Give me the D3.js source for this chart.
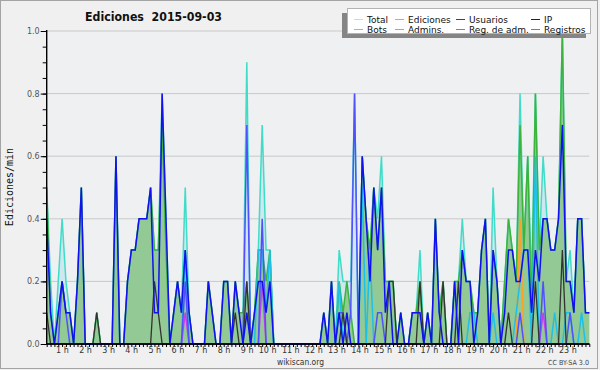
<!DOCTYPE html>
<html>
<head>
<meta charset="utf-8">
<script src="https://cdn.jsdelivr.net/npm/d3@7"></script>
<style>
  body { margin: 0; background: #f0f0f0; }
  svg text { font-family: "DejaVu Sans", sans-serif; }
</style>
</head>
<body>
<div id="chart"></div>
<script>
// values per 10 minutes, edits/min, one row per hour (last row = 23 h)
const total = [
  .5,.2,0,.2,.4,.2,  .1,0,.2,.5,0,0,  0,.1,0,0,0,0,  .6,0,0,.2,.3,.3,
  .4,.4,.4,.5,.3,.3,  .8,.4,0,.1,.2,.1,  .5,.1,0,0,0,0,  .2,.1,0,0,.2,.2,
  0,.2,.1,.1,.9,0,  .1,.3,.7,.3,.3,0,  0,0,0,0,0,0,  0,0,0,0,0,0,
  .1,0,.2,0,.3,.2,  .2,.2,.8,0,.6,.4,  .3,.5,.4,.6,.2,.2,  .2,0,.1,0,0,.1,
  .1,.3,0,.1,0,.4,  .1,.2,0,0,.2,.2,  .4,.2,.2,.1,.1,.3,  .4,0,.5,.2,0,.2,
  .4,.3,.2,.8,.3,.6,  .2,.8,.3,.6,.4,.3,  .3,.4,1,.2,.3,.1,  .4,.4,.1,.1
];
const ediciones = [
  .5,.1,0,.1,.2,.1,  .1,0,.2,.5,0,0,  0,.1,0,0,0,0,  .6,0,0,.2,.3,.3,
  .4,.4,.4,.5,.3,.3,  .7,.3,0,.1,.2,.1,  .3,.1,0,0,0,0,  .2,.1,0,0,.2,.2,
  0,.2,.1,.1,.2,0,  .1,.3,.3,.2,.3,0,  0,0,0,0,0,0,  0,0,0,0,0,0,
  .1,0,.2,0,.2,.1,  .2,.1,0,0,.6,.4,  .3,.5,.3,.5,.2,.2,  .2,0,.1,0,0,.1,
  .1,.2,0,.1,0,.4,  .1,.2,0,0,.2,.2,  .3,.2,.2,.1,.1,.3,  .4,0,.3,.2,0,.2,
  .4,.3,.2,.7,.3,.6,  .1,.8,.3,.4,.4,.3,  .3,.4,1,.2,.2,.1,  .4,.4,.1,.1
];
const usuarios = [
  .4,.1,0,.1,.2,.1,  .1,0,.2,.5,0,0,  0,0,0,0,0,0,  .6,0,0,.2,.3,.3,
  .4,.4,.4,.5,.1,.1,  .8,.4,0,.1,.2,.1,  .3,.1,0,0,0,0,  .2,.1,0,0,.2,.2,
  0,.2,.1,0,.1,0,  .1,.2,.2,.1,.2,0,  0,0,0,0,0,0,  0,0,0,0,0,0,
  .1,0,.2,0,.1,0,  .1,0,0,0,.6,.4,  .2,.5,.3,.5,.1,.2,  0,0,.1,0,0,.1,
  .1,.1,0,.1,0,.4,  .1,0,0,0,.2,0,  .3,.2,.2,0,.1,.3,  .4,0,.3,.2,0,.1,
  .3,.3,.2,.2,.3,.3,  .1,.3,.2,.4,.4,.3,  .3,.4,.7,.2,.2,.1,  .4,.4,.1,.1
];
const ip = [
  .1,0,0,0,0,0,  0,0,0,0,0,0,  0,.1,0,0,0,0,  0,0,0,0,0,0,
  0,0,0,0,.2,.1,  0,0,0,0,0,0,  0,0,0,0,0,0,  0,0,0,0,0,0,
  0,.1,0,0,.2,0,  0,0,0,0,0,0,  0,0,0,0,0,0,  0,0,0,0,0,0,
  0,0,0,0,0,.1,  0,0,0,0,0,0,  0,0,0,0,0,.2,  .2,0,0,0,0,0,
  0,.2,0,0,0,0,  0,.2,0,0,0,.2,  0,0,0,0,0,0,  0,0,0,0,0,0,
  .1,0,0,0,0,0,  0,.2,0,0,0,0,  0,0,.3,0,0,0,  0,0,0,0
];
const bots = [
  0,0,0,0,0,0,  0,0,0,0,0,0,  0,0,0,0,0,0,  0,0,0,0,0,0,
  0,0,0,0,0,0,  0,0,0,0,0,0,  0,0,0,0,0,0,  0,0,0,0,0,0,
  0,0,0,0,0,0,  0,0,0,0,0,0,  0,0,0,0,0,0,  0,0,0,0,0,0,
  0,0,0,0,0,0,  0,0,0,0,0,0,  0,0,0,0,0,0,  0,0,0,0,0,0,
  0,0,0,0,0,0,  0,0,0,0,0,0,  0,0,0,0,0,0,  0,0,0,0,0,0,
  0,0,0,.4,0,0,  0,0,0,0,0,0,  0,0,0,0,0,0,  0,0,0,0
];
const admins = [
  0,0,0,0,0,0,  0,0,0,0,0,0,  0,0,0,0,0,0,  0,0,0,0,0,0,
  0,0,0,0,0,0,  0,0,0,0,0,0,  .3,0,0,0,0,0,  0,0,0,0,0,0,
  0,0,0,0,0,0,  0,.3,.3,.1,.3,0,  0,0,0,0,0,0,  0,0,0,0,0,0,
  0,0,0,0,.2,0,  0,0,0,0,.5,0,  .3,0,0,0,0,0,  0,0,0,0,0,0,
  0,0,0,0,0,0,  0,0,0,0,0,0,  0,0,.1,.1,0,0,  0,0,.1,0,0,0,
  0,0,.1,.2,.3,.3,  0,.6,0,0,0,0,  .1,0,0,.1,.1,0,  0,.1,0,0
];
const regAdm = [
  0,0,0,0,0,0,  0,0,0,0,0,0,  0,0,0,0,0,0,  0,0,0,0,0,0,
  0,0,0,0,0,0,  0,0,0,0,0,0,  .1,0,0,0,0,0,  0,0,0,0,0,0,
  0,0,0,0,0,0,  0,0,.2,0,0,0,  0,0,0,0,0,0,  0,0,0,0,0,0,
  0,0,0,0,0,0,  0,0,0,0,0,0,  0,0,0,0,0,0,  0,0,0,0,0,0,
  0,0,0,0,0,0,  0,0,0,0,0,0,  0,0,0,0,0,0,  0,0,0,0,0,0,
  0,0,0,0,0,0,  0,0,0,.1,0,0,  0,0,0,0,0,0,  0,0,0,0
];
const registros = [
  0,0,0,0,.2,.1,  0,0,0,0,0,0,  0,0,0,0,0,0,  0,0,0,0,0,0,
  0,0,0,0,0,0,  0,0,0,0,0,0,  .2,0,0,0,0,0,  0,0,0,0,0,0,
  0,0,0,0,.7,0,  0,0,.4,0,0,0,  0,0,0,0,0,0,  0,0,0,0,0,0,
  0,0,0,0,.1,.1,  0,.1,.8,0,0,0,  0,0,.1,.1,0,0,  0,0,0,0,0,0,
  0,0,0,0,0,0,  0,0,0,0,0,0,  0,0,0,0,0,0,  0,0,0,0,0,0,
  0,0,0,.1,0,0,  0,0,0,.2,0,0,  0,0,0,0,.1,0,  0,0,0,0
];
const hourLabels = d3.range(1, 24).map(h => h + " h");
const yTicks = [0, 0.2, 0.4, 0.6, 0.8, 1.0];

const legendItems = [
  {name: "Total", color: "#9feeee"}, {name: "Ediciones", color: "#7ed07e"},
  {name: "Usuarios", color: "#2b2bff"}, {name: "IP", color: "#222222"},
  {name: "Bots", color: "#ffa028"}, {name: "Admins.", color: "#2fd3f0"},
  {name: "Reg. de adm.", color: "#dd3cf0"}, {name: "Registros", color: "#6c6cff"}
];

const width = 600, height = 370;
const svg = d3.select("#chart").append("svg")
  .attr("width", width).attr("height", height);

svg.append("rect").attr("x", 0.5).attr("y", 0.5).attr("width", 597).attr("height", 368)
  .attr("fill", "#f0f0f0").attr("stroke", "#a4a4a4");

let x = d3.scaleLinear().domain([0, total.length - 1]).range([46.7, 589.3]);
let y = d3.scaleLinear().domain([0, 1]).range([344, 31]);

// plot background
svg.append("rect").attr("x", x(0)).attr("y", y(1))
  .attr("width", x(total.length - 1) - x(0)).attr("height", y(0) - y(1))
  .attr("fill", "#eef0f2");

// gridlines
svg.append("g").selectAll("line").data(yTicks.slice(1)).join("line")
  .attr("x1", x(0)).attr("x2", x(total.length - 1))
  .attr("y1", d => y(d)).attr("y2", d => y(d))
  .attr("stroke", "#c9c9c9").attr("stroke-width", 1);

let area = d3.area().x((d, i) => x(i)).y0(y(0)).y1(d => y(d));
let line = d3.line().x((d, i) => x(i)).y(d => y(d));

svg.append("path").datum(total).attr("d", area).attr("fill", "#cfe7ee");
svg.append("path").datum(ediciones).attr("d", area).attr("fill", "#93c994");

let series = [
  [total, "#40dcc8", 1.5],
  [ediciones, "#3cb43c", 1.5],
  [bots, "#ffa028", 1.5],
  [admins, "#1cc0e8", 1.5],
  [regAdm, "#c83cf0", 1.5],
  [registros, "#5050ff", 1.5],
  [ip, "#333333", 1.3],
  [usuarios, "#1010f0", 1.5]
];
series.forEach(function(s) {
  svg.append("path").datum(s[0]).attr("d", line)
    .attr("fill", "none").attr("stroke", s[1]).attr("stroke-width", s[2])
    .attr("stroke-linejoin", "miter");
});

// y axis
let yMinor = svg.append("g").attr("transform", "translate(" + x(0) + ",0)")
  .call(d3.axisLeft(y).tickValues(d3.range(0, 1.0001, 0.05)).tickSize(4).tickFormat(""));
yMinor.select(".domain").remove();
let yAxis = svg.append("g").attr("transform", "translate(" + x(0) + ",0)")
  .call(d3.axisLeft(y).tickValues(yTicks).tickSize(6).tickPadding(1).tickFormat(d3.format(".1f")));
yAxis.select(".domain").remove();
yAxis.selectAll("text").attr("font-size", 8).attr("fill", "#555")
  .style("font-family", "DejaVu Sans, sans-serif");

// x axis
let xAxis = svg.append("g").attr("transform", "translate(0," + y(0) + ")")
  .call(d3.axisBottom(x).tickValues(d3.range(total.length)).tickSize(3).tickFormat(""));
xAxis.select(".domain").remove();
xAxis.selectAll("line").attr("stroke-width", 1);

svg.append("line").attr("x1", x(0)).attr("x2", x(0)).attr("y1", y(1) - 1).attr("y2", y(0))
  .attr("stroke", "#000").attr("stroke-width", 1.4);
svg.append("line").attr("x1", x(0)).attr("x2", x(total.length - 1)).attr("y1", y(0)).attr("y2", y(0))
  .attr("stroke", "#000").attr("stroke-width", 1.4);

svg.append("g").selectAll("text").data(hourLabels).join("text")
  .attr("x", (d, i) => x((i + 1) * 6) - 1).attr("y", 353)
  .attr("text-anchor", "end").attr("font-size", 8).attr("fill", "#333")
  .text(d => d);

// titles
svg.append("text").attr("x", 85).attr("y", 21).attr("font-size", 13).attr("font-weight", "bold")
  .attr("textLength", 137).attr("lengthAdjust", "spacingAndGlyphs").attr("fill", "#111")
  .style("white-space", "pre").text("Ediciones  2015-09-03");

svg.append("text").attr("transform", "translate(13,187) rotate(-90)")
  .attr("text-anchor", "middle").attr("font-size", 10).attr("fill", "#111")
  .style("font-family", "DejaVu Sans Mono, monospace").text("Ediciones/min");

svg.append("text").attr("x", 300.5).attr("y", 365).attr("text-anchor", "middle")
  .attr("font-size", 8).attr("fill", "#333").attr("textLength", 47)
  .attr("lengthAdjust", "spacingAndGlyphs").text("wikiscan.org");

svg.append("text").attr("x", 548).attr("y", 365).attr("font-size", 7).attr("fill", "#444")
  .attr("textLength", 41).attr("lengthAdjust", "spacingAndGlyphs").text("CC BY-SA 3.0");

// legend
let lg = svg.append("g");
lg.append("rect").attr("x", 342).attr("y", 13).attr("width", 244).attr("height", 25).attr("fill", "#858585");
lg.append("rect").attr("x", 347.5).attr("y", 8.5).attr("width", 243).attr("height", 25)
  .attr("fill", "#fff").attr("stroke", "#b4b4b4");
let colX = [354, 395, 456, 531];
legendItems.forEach(function(d, i) {
  let cx = colX[i % 4], row = Math.floor(i / 4);
  let ly = 19 + row * 10;
  lg.append("line").attr("x1", cx).attr("x2", cx + 9).attr("y1", ly + 0.5).attr("y2", ly + 0.5)
    .attr("stroke", d.color).attr("stroke-width", 1);
  lg.append("text").attr("x", cx + 13).attr("y", ly + 4).attr("font-size", 9).attr("fill", "#111")
    .text(d.name);
});
</script>
</body>
</html>
